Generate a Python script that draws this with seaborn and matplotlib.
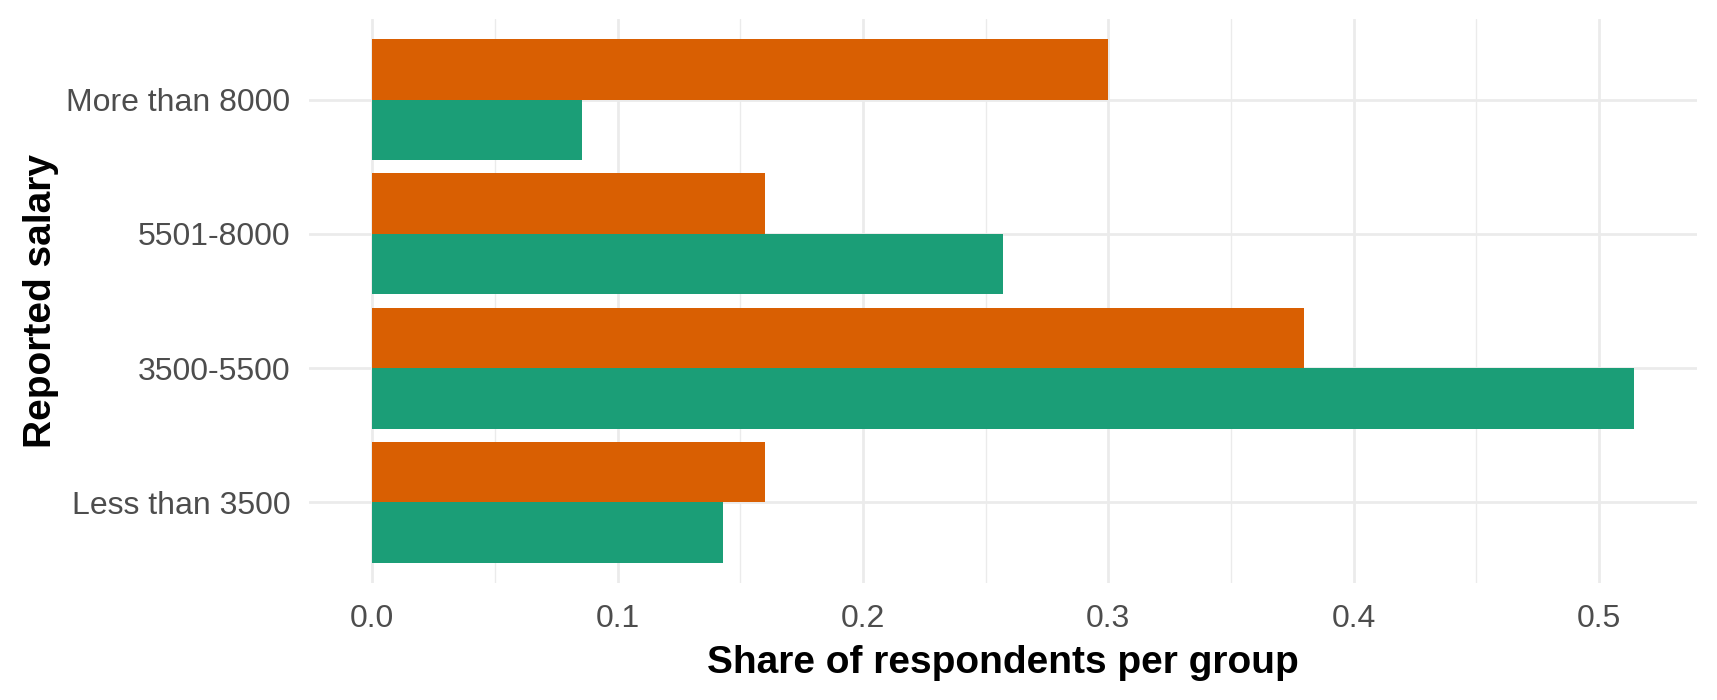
import matplotlib
matplotlib.use("Agg")
import matplotlib.pyplot as plt
import seaborn as sns
import pandas as pd
from matplotlib.ticker import MultipleLocator

salary = ["More than 8000", "5501-8000", "3500-5500", "Less than 3500"]
groups = ["Group 1", "Group 2"]
share_group1 = [0.30, 0.16, 0.38, 0.16]
share_group2 = [0.0857, 0.2571, 0.5143, 0.1429]
colors = ["#D95F02", "#1B9E77"]

df = pd.DataFrame({
    "salary": salary * 2,
    "group": [groups[0]] * 4 + [groups[1]] * 4,
    "share": share_group1 + share_group2,
})

sns.set_theme(style="white")
plt.rcParams["font.family"] = ["Liberation Sans", "DejaVu Sans"]

fig = plt.figure(figsize=(17.17, 7), dpi=100)
ax = fig.add_axes([0.18, 0.1671, 0.8084, 0.8057])

sns.barplot(data=df, y="salary", x="share", hue="group", order=salary,
            hue_order=groups, palette=colors, orient="h", width=0.9,
            saturation=1, legend=False, ax=ax, zorder=3)

for p in ax.patches:
    p.set_linewidth(0)

xmax = max(share_group1 + share_group2)
ax.set_xlim(-0.05 * xmax, xmax * 1.05)
ax.set_ylim(len(salary) - 0.4, -0.6)
ax.xaxis.set_minor_locator(MultipleLocator(0.05))
ax.set_xticks([0.0, 0.1, 0.2, 0.3, 0.4, 0.5])
ax.set_xticklabels(["0.0", "0.1", "0.2", "0.3", "0.4", "0.5"])

ax.grid(True, which="major", color="#EBEBEB", linewidth=1.95, zorder=0)
ax.grid(True, which="minor", axis="x", color="#EBEBEB", linewidth=0.95, zorder=0)
ax.set_axisbelow(True)
for s in ax.spines.values():
    s.set_visible(False)

ax.tick_params(axis="both", which="both", length=0, labelsize=23, labelcolor="#4D4D4D")
ax.tick_params(axis="y", pad=13.5)
ax.tick_params(axis="x", pad=15)

ax.set_xlabel("Share of respondents per group", fontsize=28, fontweight="bold",
              color="black", labelpad=8)
ax.set_ylabel("Reported salary", fontsize=28, fontweight="bold",
              color="black", labelpad=5)

fig.savefig("out.png", dpi=100, facecolor="white")
